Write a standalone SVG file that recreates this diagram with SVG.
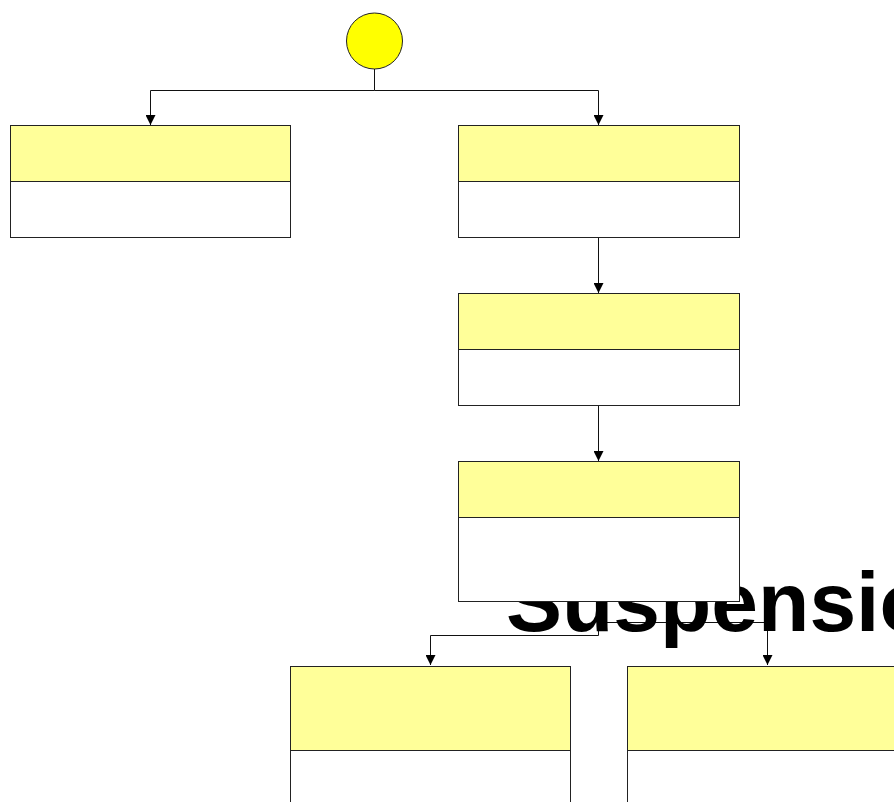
<svg xmlns="http://www.w3.org/2000/svg" width="894" height="802" viewBox="0 0 894 802">
<defs>
<style>
.hdr{fill:#ffff99;stroke:#222;stroke-width:1}
.body{fill:#ffffff;stroke:#222;stroke-width:1}
.conn{fill:none;stroke:#111;stroke-width:1}
.title{font-family:"Liberation Sans",Arial,sans-serif;font-weight:bold;font-size:84px;fill:#000}
</style>
<marker id="arr" viewBox="0 0 10 10" refX="10" refY="5" markerWidth="10" markerHeight="10" markerUnits="userSpaceOnUse" orient="auto">
<path d="M0,0 L10,5 L0,10 Z" fill="#000"/>
</marker>
</defs>
<rect width="894" height="802" fill="#fff"/>
<g id="connectors">
<path class="conn" d="M374.5,69 V90.5 H150.5 V125" marker-end="url(#arr)"/>
<path class="conn" d="M374.5,90.5 H598.5 V125" marker-end="url(#arr)"/>
<path class="conn" d="M598.5,238 V293" marker-end="url(#arr)"/>
<path class="conn" d="M598.5,406 V461" marker-end="url(#arr)"/>
<path class="conn" d="M598.5,602 V635.5 H430.5 V665" marker-end="url(#arr)"/>
<path class="conn" d="M598.5,602 V622.5 H767.5 V665" marker-end="url(#arr)"/>
</g>
<text class="title" x="506" y="631">Suspensio</text>
<g id="start">
<circle cx="374.5" cy="41" r="28" fill="#ffff00" stroke="#222" stroke-width="1"/>
</g>
<g id="node1">
<rect class="hdr" x="10.5" y="125.5" width="280" height="56"/>
<rect class="body" x="10.5" y="181.5" width="280" height="56"/>
</g>
<g id="node2">
<rect class="hdr" x="458.5" y="125.5" width="281" height="56"/>
<rect class="body" x="458.5" y="181.5" width="281" height="56"/>
</g>
<g id="node3">
<rect class="hdr" x="458.5" y="293.5" width="281" height="56"/>
<rect class="body" x="458.5" y="349.5" width="281" height="56"/>
</g>
<g id="node4">
<rect class="hdr" x="458.5" y="461.5" width="281" height="56"/>
<rect class="body" x="458.5" y="517.5" width="281" height="84"/>
</g>
<g id="node5">
<rect class="hdr" x="290.5" y="666.5" width="280" height="84"/>
<rect class="body" x="290.5" y="750.5" width="280" height="84"/>
</g>
<g id="node6">
<rect class="hdr" x="627.5" y="666.5" width="280" height="84"/>
<rect class="body" x="627.5" y="750.5" width="280" height="84"/>
</g>
</svg>
